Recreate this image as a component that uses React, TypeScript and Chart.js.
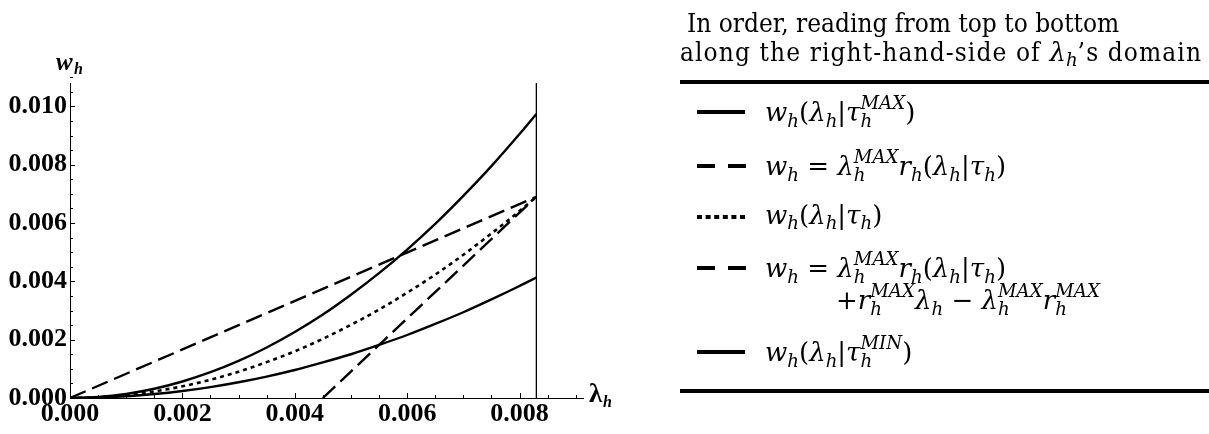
import { useEffect, useRef } from "react";
import { Chart, registerables } from "chart.js";

Chart.register(...registerables);

// λ_h sample points along the domain and the three curved series
const lambdaGrid = [
  0, 0.0005, 0.001, 0.0015, 0.002, 0.0025, 0.003, 0.0035, 0.004, 0.0045,
  0.005, 0.0055, 0.006, 0.0065, 0.007, 0.0075, 0.008, 0.0083,
];
const wTauMax = [
  0, 0.000035, 0.000141, 0.000318, 0.000566, 0.000884, 0.00127, 0.00173,
  0.00226, 0.00286, 0.00354, 0.00428, 0.00509, 0.00597, 0.00693, 0.00795,
  0.00905, 0.00974,
];
const wTau = [
  0, 0.000025, 0.0001, 0.000225, 0.0004, 0.000626, 0.000902, 0.00123, 0.0016,
  0.00203, 0.00251, 0.00303, 0.00361, 0.00423, 0.00491, 0.00564, 0.00641,
  0.0069,
];
const wTauMin = [
  0, 0.000015, 0.00006, 0.000135, 0.00024, 0.000375, 0.00054, 0.000735,
  0.00096, 0.00122, 0.0015, 0.00182, 0.00216, 0.00254, 0.00294, 0.00338,
  0.00384, 0.00413,
];

// straight iso-lines
const rLineLambda = [0, 0.0083];
const rLineW = [0, 0.0069];
const shiftedLineLambda = [0.0045, 0.0083];
const shiftedLineW = [0, 0.0069];

// right-hand boundary of λ_h's domain
const lambdaMax = 0.0083;

const xTicks = [0, 0.002, 0.004, 0.006, 0.008];
const yTicks = [0, 0.002, 0.004, 0.006, 0.008, 0.01];
const X_MAX = 0.00913;
const Y_MAX = 0.0108;
const MINOR = 0.0005;

const pts = (xs: number[], ys: number[]) => xs.map((x, i) => ({ x, y: ys[i] }));

const axisDecor = {
  id: "axisDecor",
  afterDraw(chart: any) {
    const { ctx } = chart;
    const xs = chart.scales.x;
    const ys = chart.scales.y;
    const x0 = xs.getPixelForValue(0);
    const y0 = ys.getPixelForValue(0);
    ctx.save();
    ctx.strokeStyle = "#000";
    ctx.lineWidth = 1;
    const nx = Math.round(X_MAX / MINOR);
    for (let k = 1; k <= nx; k++) {
      const px = Math.round(xs.getPixelForValue(k * MINOR)) + 0.5;
      const len = k % 4 === 0 ? 5 : 3;
      ctx.beginPath();
      ctx.moveTo(px, y0);
      ctx.lineTo(px, y0 - len);
      ctx.stroke();
    }
    const ny = Math.round(Y_MAX / MINOR);
    for (let k = 1; k <= ny; k++) {
      const py = Math.round(ys.getPixelForValue(k * MINOR)) + 0.5;
      const len = k % 4 === 0 ? 5 : 3;
      ctx.beginPath();
      ctx.moveTo(x0, py);
      ctx.lineTo(x0 + len, py);
      ctx.stroke();
    }
    // axis names
    ctx.fillStyle = "#000";
    ctx.textBaseline = "alphabetic";
    ctx.font = 'bold italic 25px "Liberation Serif"';
    ctx.fillText("w", 56, 70);
    ctx.font = 'bold italic 16px "Liberation Serif"';
    ctx.fillText("h", 74, 74);
    ctx.font = 'bold 27px "Liberation Serif"';
    ctx.fillText("λ", 589, 402);
    ctx.font = 'bold italic 16px "Liberation Serif"';
    ctx.fillText("h", 603, 407);
    ctx.restore();
  },
};

function ChartPanel() {
  const ref = useRef<HTMLCanvasElement | null>(null);
  useEffect(() => {
    const canvas = ref.current;
    if (!canvas) return;
    const tickFont = { family: '"Liberation Serif"', weight: "bold" as const, size: 26 };
    const chart = new Chart(canvas, {
      type: "line",
      data: {
        datasets: [
          {
            label: "boundary",
            data: pts([lambdaMax, lambdaMax], [0, Y_MAX]),
            borderColor: "#000",
            borderWidth: 1.3,
            pointRadius: 0,
          },
          {
            label: "w(λ|τ max)",
            data: pts(lambdaGrid, wTauMax),
            borderColor: "#000",
            borderWidth: 2.4,
            pointRadius: 0,
            cubicInterpolationMode: "monotone",
          },
          {
            label: "λmax r(λ|τ)",
            data: pts(rLineLambda, rLineW),
            borderColor: "#000",
            borderWidth: 2.4,
            borderDash: [17, 7],
            pointRadius: 0,
          },
          {
            label: "w(λ|τ)",
            data: pts(lambdaGrid, wTau),
            borderColor: "#000",
            borderWidth: 2.6,
            borderDash: [4, 4],
            pointRadius: 0,
            cubicInterpolationMode: "monotone",
          },
          {
            label: "shifted",
            data: pts(shiftedLineLambda, shiftedLineW),
            borderColor: "#000",
            borderWidth: 2.4,
            borderDash: [17, 7],
            pointRadius: 0,
          },
          {
            label: "w(λ|τ min)",
            data: pts(lambdaGrid, wTauMin),
            borderColor: "#000",
            borderWidth: 2.4,
            pointRadius: 0,
            cubicInterpolationMode: "monotone",
          },
        ],
      },
      options: {
        animation: false,
        responsive: false,
        parsing: false as any,
        layout: { padding: { top: 83, right: 57, left: 0, bottom: 0 } },
        plugins: { legend: { display: false }, tooltip: { enabled: false } },
        scales: {
          x: {
            type: "linear",
            min: 0,
            max: X_MAX,
            grid: { display: false, drawTicks: false, tickLength: 0 },
            border: { display: true, color: "#000", width: 1 },
            afterBuildTicks: (s: any) => {
              s.ticks = xTicks.map((v) => ({ value: v }));
            },
            afterFit: (s: any) => {
              s.height = 36;
            },
            ticks: {
              font: tickFont,
              color: "#000",
              padding: 1,
              maxRotation: 0,
              autoSkip: false,
              callback: (v: any) => Number(v).toFixed(3),
            },
          },
          y: {
            type: "linear",
            min: 0,
            max: Y_MAX,
            grid: { display: false, drawTicks: false, tickLength: 0 },
            border: { display: true, color: "#000", width: 1 },
            afterBuildTicks: (s: any) => {
              s.ticks = yTicks.map((v) => ({ value: v }));
            },
            afterFit: (s: any) => {
              s.width = 70;
            },
            ticks: {
              font: tickFont,
              color: "#000",
              padding: 3,
              autoSkip: false,
              callback: (v: any) => Number(v).toFixed(3),
            },
          },
        },
      },
      plugins: [axisDecor],
    });
    return () => chart.destroy();
  }, []);
  return (
    <canvas
      ref={ref}
      width={640}
      height={434}
      style={{ position: "absolute", left: 0, top: 0, width: 640, height: 434 }}
    />
  );
}

// italic symbol with optional stacked sub/superscript
function V({ b, sub, sup }: { b: string; sub?: string; sup?: string }) {
  if (!sup) {
    return (
      <span>
        <i>{b}</i>
        {sub && (
          <i style={{ fontSize: "0.7em", position: "relative", top: "0.3em" }}>{sub}</i>
        )}
      </span>
    );
  }
  return (
    <span>
      <i>{b}</i>
      <span
        style={{
          display: "inline-block",
          verticalAlign: "-0.32em",
          fontSize: "0.7em",
          lineHeight: "1.0",
        }}
      >
        <i style={{ display: "block" }}>{sup}</i>
        <i style={{ display: "block" }}>{sub}</i>
      </span>
    </span>
  );
}

function Sample({ kind }: { kind: "solid" | "dash" | "dot" }) {
  return (
    <svg width={50} height={6} style={{ position: "absolute", left: 697, top: -3 }}>
      {kind === "solid" && <rect x={0} y={1} width={48} height={4} fill="#000" />}
      {kind === "dash" && (
        <g fill="#000">
          <rect x={0} y={1} width={18} height={4} />
          <rect x={31} y={1} width={18} height={4} />
        </g>
      )}
      {kind === "dot" && (
        <g fill="#000">
          {[0, 1, 2, 3, 4, 5].map((i) => (
            <rect key={i} x={i * 8.6} y={1} width={5} height={4} />
          ))}
        </g>
      )}
    </svg>
  );
}

function Row({ y, kind, children }: { y: number; kind: "solid" | "dash" | "dot"; children: any }) {
  return (
    <div style={{ position: "absolute", left: 0, top: y, width: 1209, height: 0 }}>
      <Sample kind={kind} />
      <div
        style={{
          position: "absolute",
          left: 765,
          top: -18,
          whiteSpace: "nowrap",
          lineHeight: "32px",
        }}
      >
        {children}
      </div>
    </div>
  );
}

const textFont = '"DejaVu Serif Condensed", "DejaVu Serif", serif';
const mathFont = '"DejaVu Serif", serif';

function LegendTable() {
  return (
    <div style={{ position: "absolute", left: 0, top: 0, width: 1209, height: 434, fontFamily: mathFont, fontSize: 26, color: "#000" }}>
      <div style={{ position: "absolute", left: 687, top: 8, whiteSpace: "nowrap", lineHeight: "30px", fontFamily: textFont, fontSize: 26 }}>
        In order, reading from top to bottom
      </div>
      <div style={{ position: "absolute", left: 680, top: 37, whiteSpace: "nowrap", lineHeight: "30px", fontFamily: textFont, fontSize: 26, letterSpacing: "1.1px" }}>
        along the right-hand-side of{" "}
        <span style={{ fontFamily: mathFont, letterSpacing: 0 }}>
          <V b="λ" sub="h" />
        </span>
        ’s domain
      </div>
      <div style={{ position: "absolute", left: 680, top: 80, width: 529, height: 4, background: "#000" }} />

      <Row y={112} kind="solid">
        <V b="w" sub="h" />(<V b="λ" sub="h" />|<V b="τ" sub="h" sup="MAX" />)
      </Row>
      <Row y={166} kind="dash">
        <V b="w" sub="h" /> = <V b="λ" sub="h" sup="MAX" /><V b="r" sub="h" />(<V b="λ" sub="h" />|<V b="τ" sub="h" />)
      </Row>
      <Row y={217} kind="dot">
        <V b="w" sub="h" />(<V b="λ" sub="h" />|<V b="τ" sub="h" />)
      </Row>
      <Row y={268} kind="dash">
        <V b="w" sub="h" /> = <V b="λ" sub="h" sup="MAX" /><V b="r" sub="h" />(<V b="λ" sub="h" />|<V b="τ" sub="h" />)
      </Row>
      <div style={{ position: "absolute", left: 836, top: 282, whiteSpace: "nowrap", lineHeight: "32px" }}>
        +<V b="r" sub="h" sup="MAX" /><V b="λ" sub="h" /> − <V b="λ" sub="h" sup="MAX" /><V b="r" sub="h" sup="MAX" />
      </div>
      <Row y={352} kind="solid">
        <V b="w" sub="h" />(<V b="λ" sub="h" />|<V b="τ" sub="h" sup="MIN" />)
      </Row>
      <div style={{ position: "absolute", left: 680, top: 389, width: 529, height: 4, background: "#000" }} />
    </div>
  );
}

export default function App() {
  return (
    <div style={{ position: "fixed", left: 0, top: 0, width: 1209, height: 434, background: "#fff", overflow: "hidden" }}>
      <ChartPanel />
      <LegendTable />
    </div>
  );
}
